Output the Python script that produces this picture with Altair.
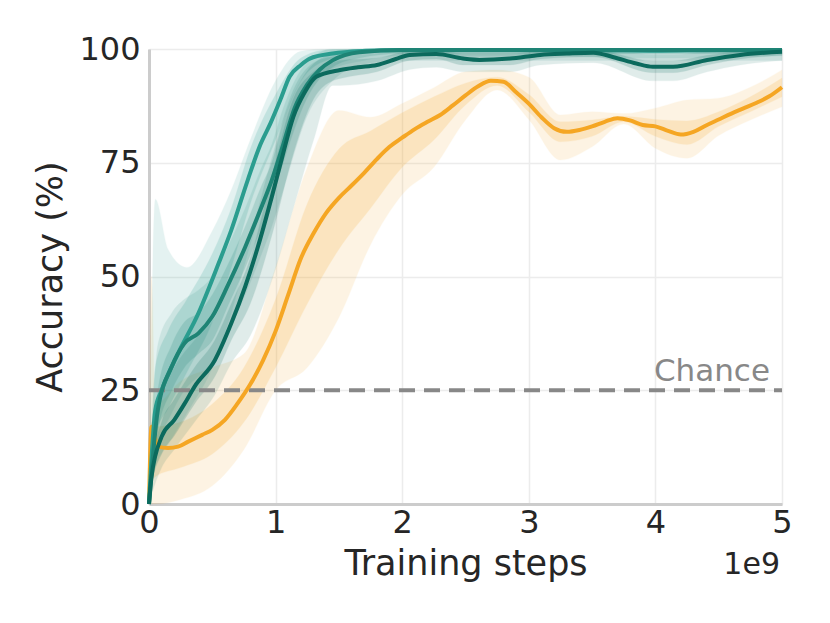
import altair as alt
import pandas as pd

# ---------------- data (x in units of 1e9 training steps) ----------------
# Orange series: mean line
orange_x = [0, 0.02, 0.07, 0.15, 0.23, 0.31, 0.42, 0.5, 0.6, 0.7, 0.8, 0.9, 1.0, 1.1, 1.2, 1.3, 1.4,
            1.5, 1.6, 1.7, 1.8, 1.9, 2.0, 2.1, 2.2, 2.3, 2.4, 2.5, 2.6, 2.7, 2.8, 2.9, 3.0, 3.1,
            3.2, 3.3, 3.4, 3.5, 3.6, 3.7, 3.8, 3.9, 4.0, 4.1, 4.2, 4.3, 4.4, 4.5, 4.6, 4.7, 4.8,
            4.9, 5.0]
orange_y = [0, 17, 12.6, 12.3, 12.6, 13.7, 15.2, 16.3, 18.5, 22.1, 26.3, 31.5, 38, 46, 54, 59.5, 64,
            67.3, 70, 72.8, 75.8, 78.5, 80.5, 82.4, 84, 85.5, 87.6, 89.8, 91.8, 93, 92.8, 90.5, 88,
            85, 82.6, 81.8, 82.2, 83, 84, 84.8, 84.3, 83.3, 83, 82, 81.2, 81.8, 83.2, 84.5, 85.8,
            87, 88.2, 89.6, 91.6]
# Orange bands
orange_bx = [0, 0.02, 0.05, 0.25, 0.5, 0.75, 1.0, 1.25, 1.5, 1.75, 2.0, 2.25, 2.5, 2.75, 3.0, 3.25,
             3.5, 3.75, 4.0, 4.25, 4.5, 4.75, 5.0]
orange_olo = [0, 0, 0, 1, 4, 12, 25, 30, 41, 57, 68, 74, 84.4, 91, 84.5, 75.6, 78.5, 83.5, 78.2, 76,
              81, 84.4, 87.3]
orange_ilo = [0, 5, 6, 8, 11, 18, 30, 44, 56, 65, 74, 80, 87.7, 92, 86.2, 79.6, 80.8, 84, 80.8, 79,
              83, 86.2, 89.5]
orange_ihi = [0, 18, 17, 18, 22, 30, 45, 66, 78, 82, 86, 89.5, 92.5, 93.8, 90, 84, 84.4, 85.2, 84.5,
              84.2, 86.2, 89.5, 93.6]
orange_ohi = [0, 50, 22, 27, 30, 33, 52, 74, 86.5, 85, 88, 91.5, 95, 95.4, 93.8, 85.5, 86.2, 85.8, 87,
              88.8, 89.2, 91.6, 95.4]

# Light teal series
teal1_x = [0, 0.05, 0.1, 0.23, 0.39, 0.55, 0.65, 0.78, 0.88, 0.96, 1.04, 1.11, 1.2, 1.27, 1.45,
           1.71, 2.0, 2.5, 3.0, 3.5, 4.0, 4.5, 5.0]
teal1_y = [0, 20.7, 25, 33.1, 41.9, 52.9, 60.2, 71.2, 79, 83.7, 89, 93.9, 96.5, 97.9, 99, 99.6,
           99.8, 99.8, 99.8, 99.8, 99.6, 99.8, 99.8]
teal1_bx = [0, 0.05, 0.15, 0.3, 0.5, 0.65, 0.8, 1.0, 1.2, 1.4, 1.7, 2.0, 3.0, 4.0, 5.0]
teal1_olo = [0, 8, 13, 20, 30, 42, 57, 73, 88, 95, 97.5, 98.5, 98.5, 98, 98.5]
teal1_ilo = [0, 15, 21, 29, 40, 52, 66, 80, 93, 97.5, 99, 99.3, 99.3, 99, 99.3]
teal1_ihi = [0, 30, 38, 45, 55, 65, 78, 90, 98, 99.8, 100, 100, 100, 100, 100]
teal1_ohi = [0, 67, 56, 52, 60, 69, 80, 93, 99.5, 100, 100, 100, 100, 100, 100]

# Mid teal series
teal2_x = [0, 0.07, 0.18, 0.28, 0.39, 0.5, 0.63, 0.76, 0.89, 0.97, 1.06, 1.15, 1.245, 1.35, 1.45,
           1.66, 2.0, 3.0, 4.0, 5.0]
teal2_y = [0, 20.7, 30.2, 35.3, 37.5, 41.2, 48.5, 56.5, 65.4, 71.2, 79, 87, 92, 95.5, 97.5,
           99.3, 99.8, 99.8, 99.8, 99.8]
teal2_bx = [0, 0.07, 0.18, 0.28, 0.39, 0.5, 0.63, 0.76, 0.89, 0.97, 1.06, 1.245, 1.45, 1.66, 2.0, 5.0]
teal2_olo = [0, 12, 20, 25, 28, 31, 38, 46, 55, 61, 69, 85, 93, 96.5, 97.5, 97.5]
teal2_ilo = [0, 16, 25, 30, 33, 36, 44, 52, 61, 67, 75, 89, 96, 98, 99, 99]
teal2_ihi = [0, 25, 35, 40, 42, 46, 53, 61, 70, 75, 84, 95, 99, 100, 100, 100]
teal2_ohi = [0, 35, 42, 45, 47, 50, 57, 65, 74, 79, 87, 97, 100, 100, 100, 100]

# Dark teal series
teal3_x = [0, 0.02, 0.1, 0.2, 0.28, 0.36, 0.52, 0.65, 0.76, 0.86, 0.97, 1.05, 1.14, 1.23, 1.32,
           1.51, 1.65, 1.8, 1.95, 2.06, 2.27, 2.48, 2.61, 2.85, 3.09, 3.3, 3.51, 3.67, 3.85, 3.98,
           4.14, 4.41, 4.67, 5.0]
teal3_y = [0, 6, 14.8, 18.5, 22, 25.8, 31.6, 39.7, 47.8, 56.5, 67.5, 76, 85.1, 90.5, 93.9,
           95.4, 96, 96.5, 97.8, 98.7, 98.9, 97.9, 97.6, 97.9, 98.7, 99, 99.2, 98.2, 96.8, 96.1,
           96.1, 97.6, 98.7, 99.4]
teal3_bx = [0, 0.02, 0.1, 0.2, 0.36, 0.52, 0.65, 0.8, 0.98, 1.14, 1.3, 1.45, 1.51, 1.8, 2.06, 2.27,
            2.48, 2.85, 3.09, 3.51, 3.98, 4.14, 4.41, 4.67, 5.0]
teal3_olo = [0, 2, 8, 12, 18, 24, 31, 37, 50, 65, 80, 92, 92, 93, 95.5, 96, 95, 95, 96.5, 97, 93,
             93, 95, 96.5, 97.5]
teal3_ilo = [0, 4, 11, 15, 22, 28, 36, 44, 60, 77, 89, 93, 93.5, 95, 97.5, 97.8, 96.5, 96.5, 97.8,
             98.3, 94.8, 94.8, 96.5, 97.8, 98.6]
teal3_ihi = [0, 8, 18, 23, 30, 36, 44, 54, 73, 89, 95, 97, 97.5, 98, 99.5, 99.6, 99, 99, 99.5, 99.8,
             97.4, 97.4, 98.6, 99.5, 99.8]
teal3_ohi = [0, 12, 24, 30, 36, 41, 49, 59, 77, 91, 97, 98.3, 98.5, 99, 100, 100, 99.6, 99.6, 100,
             100, 98.8, 98.8, 99.4, 100, 100]

chance_level = [25]
x_ticks = [0, 1, 2, 3, 4, 5]
y_ticks = [0, 25, 50, 75, 100]

ORANGE = "#f5a623"
TEAL1 = "#2a9d8f"
TEAL2 = "#1e8475"
TEAL3 = "#0b6a5d"
FONT = "DejaVu Sans"
TXT = "#262626"

series = [
    (orange_x, orange_y, orange_bx, orange_olo, orange_ilo, orange_ihi, orange_ohi, ORANGE),
    (teal1_x, teal1_y, teal1_bx, teal1_olo, teal1_ilo, teal1_ihi, teal1_ohi, TEAL1),
    (teal2_x, teal2_y, teal2_bx, teal2_olo, teal2_ilo, teal2_ihi, teal2_ohi, TEAL2),
    (teal3_x, teal3_y, teal3_bx, teal3_olo, teal3_ilo, teal3_ihi, teal3_ohi, TEAL3),
]

x_axis = alt.Axis(values=x_ticks, format="d", title="Training steps", labelFontSize=32,
                  titleFontSize=35, tickSize=0, labelPadding=3, titlePadding=8,
                  domainColor="#cccccc", domainWidth=3, gridColor="#ececec", gridWidth=1.5,
                  labelColor=TXT, titleColor=TXT, titleFontWeight="normal", labelFlush=False)
y_axis = alt.Axis(values=y_ticks, title="Accuracy (%)", labelFontSize=32, titleFontSize=35,
                  tickSize=0, labelPadding=9, titlePadding=10, domainColor="#cccccc",
                  domainWidth=3, gridColor="#ececec", gridWidth=1.5, labelColor=TXT,
                  titleColor=TXT, titleFontWeight="normal", labelFlush=False)
xs = alt.Scale(domain=[0, 5], nice=False)
ys = alt.Scale(domain=[0, 100], nice=False)

band_layers = []
line_layers = []
for (lx, ly, bx, olo, ilo, ihi, ohi, col) in series:
    bdf = pd.DataFrame({"x": bx, "olo": olo, "ilo": ilo, "ihi": ihi, "ohi": ohi})
    base = alt.Chart(bdf)
    outer = base.mark_area(color=col, opacity=0.12, interpolate="monotone", stroke=col,
                           strokeOpacity=0.25, strokeWidth=1).encode(
        x=alt.X("x:Q", scale=xs, axis=x_axis), y=alt.Y("olo:Q", scale=ys, axis=y_axis),
        y2="ohi:Q")
    inner = base.mark_area(color=col, opacity=0.18, interpolate="monotone", stroke=col,
                           strokeOpacity=0.25, strokeWidth=1).encode(
        x=alt.X("x:Q", scale=xs, axis=x_axis), y=alt.Y("ilo:Q", scale=ys, axis=y_axis),
        y2="ihi:Q")
    band_layers += [outer, inner]
    ldf = pd.DataFrame({"x": lx, "y": ly})
    line = alt.Chart(ldf).mark_line(color=col, strokeWidth=4, interpolate="monotone").encode(
        x=alt.X("x:Q", scale=xs, axis=x_axis), y=alt.Y("y:Q", scale=ys, axis=y_axis))
    line_layers.append(line)

chance_df = pd.DataFrame({"x": [0], "x2": [5], "y": chance_level})
chance_rule = alt.Chart(chance_df).mark_rule(color="#888888", strokeWidth=4,
                                             strokeDash=[16, 9]).encode(
    x=alt.X("x:Q", scale=xs, axis=x_axis), x2="x2:Q", y=alt.Y("y:Q", scale=ys, axis=y_axis))

chance_txt_df = pd.DataFrame({"x": [5], "y": chance_level, "label": ["Chance"]})
chance_text = alt.Chart(chance_txt_df).mark_text(align="right", baseline="bottom", dx=-12, dy=-2,
                                                 fontSize=31, color="#888888", font=FONT).encode(
    x=alt.X("x:Q", scale=xs, axis=x_axis), y=alt.Y("y:Q", scale=ys, axis=y_axis), text="label:N")

offset_df = pd.DataFrame({"x": [5], "label": ["1e9"]})
offset_text = alt.Chart(offset_df).mark_text(align="right", baseline="middle", dx=-2,
                                             fontSize=30, color=TXT, font=FONT).encode(
    x=alt.X("x:Q", scale=xs, axis=x_axis), y=alt.value(516), text="label:N")

chart = alt.layer(*band_layers, chance_rule, chance_text, *line_layers, offset_text).properties(
    width=633, height=455,
    autosize=alt.AutoSizeParams(type="none"),
    padding={"left": 141, "top": 41, "right": 40, "bottom": 100},
).configure_view(stroke=None).configure(font=FONT)

chart.save("out.html", embed_options={"renderer": "svg", "actions": False})
